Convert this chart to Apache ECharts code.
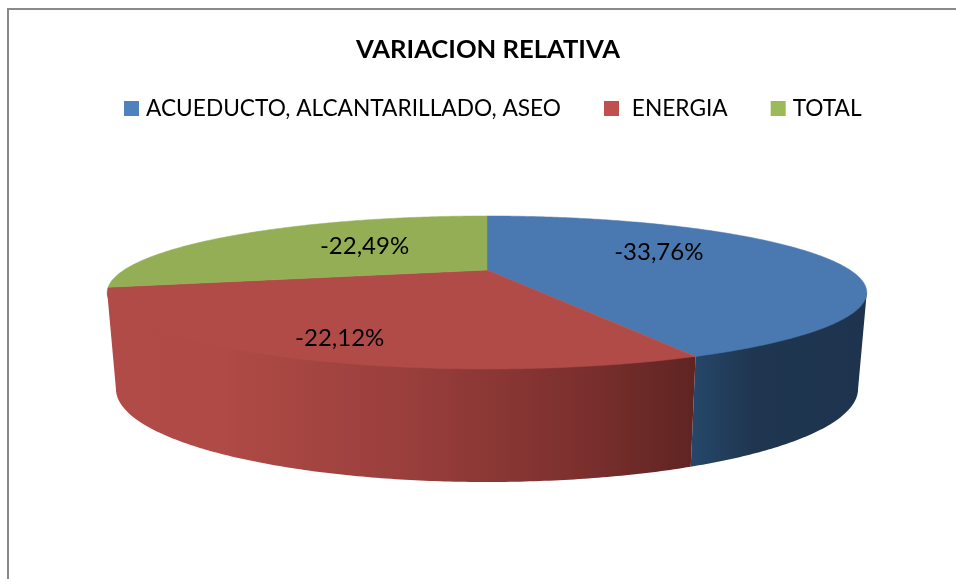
<!DOCTYPE html>
<html><head><meta charset="utf-8">
<style>html,body{margin:0;padding:0;background:#fff}#c{width:956px;height:579px}</style>
<script src="https://cdn.jsdelivr.net/npm/echarts@6/dist/echarts.min.js"></script>
</head><body><div id="c"></div>
<script>
const categories = ['ACUEDUCTO, ALCANTARILLADO, ASEO', ' ENERGIA', 'TOTAL'];
const values = [-33.76, -22.12, -22.49];
const legendColors = ['#4F81BD', '#C0504D', '#9BBB59'];
const topColors = ['#4A79B1', '#B04B47', '#93AE55'];
const wallStops = [
  [[0, '#26476A'], [0.35, '#1F3650'], [1, '#1E344E']],
  [[0, '#B04B47'], [0.2, '#AF4A46'], [0.5, '#9A3F3C'], [0.8, '#7C302E'], [1, '#5F2422']],
  null
];
const labelShift = [[0, -10], [-56, 32], [8, -4]];

// perspective model of the tilted disc
const CX = 487, CY = 270, A = 363, B = 69.9, K = 0.294;
const CY2 = 361.6, B2 = 85, A2 = A * 0.977;
const total = values.reduce((s, v) => s + Math.abs(v), 0);
const starts = [];
values.reduce((acc, v, i) => { starts[i] = acc; return acc + Math.abs(v) / total * 2 * Math.PI; }, 0);
const rightEdge = Math.acos(-K), leftEdge = 2 * Math.PI - rightEdge;

function project(theta, r, a, b, cy) {
  const u = r * Math.sin(theta), v = -r * Math.cos(theta), d = 1 - K * v;
  return [CX + a * u / d, cy + b * v / d];
}
function arc(t0, t1, a, b, cy) {
  const pts = [], n = Math.max(2, Math.ceil(Math.abs(t1 - t0) / 0.01));
  for (let i = 0; i <= n; i++) pts.push(project(t0 + (t1 - t0) * i / n, 1, a, b, cy));
  return pts;
}
function renderSlice(params) {
  const i = params.seriesIndex;
  const t0 = starts[i], t1 = t0 + Math.abs(values[i]) / total * 2 * Math.PI;
  const children = [];
  const w0 = Math.max(t0, rightEdge), w1 = Math.min(t1, leftEdge);
  if (w1 > w0 && wallStops[i]) {
    // the upper side of the wall runs under the top face, so no seam shows along the rim
    const pts = [project(w0, 1, A, B, CY), project(w1, 1, A, B, CY)]
      .concat(arc(w0, w1, A2, B2, CY2).reverse());
    children.push({
      type: 'polygon', shape: { points: pts },
      style: { fill: { type: 'linear', x: 0, y: 0, x2: 1, y2: 0, global: false,
        colorStops: wallStops[i].map(s => ({ offset: s[0], color: s[1] })) } }
    });
  }
  children.push({
    type: 'polygon', shape: { points: [[CX, CY]].concat(arc(t0, t1, A, B, CY)) },
    style: { fill: topColors[i], stroke: topColors[i], lineWidth: 0.5 }
  });
  const mid = project((t0 + t1) / 2, 0.5, A, B, CY);
  children.push({
    type: 'text', z2: 100,
    style: {
      text: values[i].toFixed(2).replace('.', ',') + '%',
      x: mid[0] + labelShift[i][0], y: mid[1] + labelShift[i][1],
      textAlign: 'center', textVerticalAlign: 'middle', verticalAlign: 'middle',
      fill: '#000', font: '24px Lato'
    }
  });
  return { type: 'group', children };
}

const chart = echarts.init(document.getElementById('c'), null, { renderer: 'canvas' });
chart.setOption({
  animation: false,
  backgroundColor: '#fff',
  title: {
    text: 'VARIACION RELATIVA', left: 483, top: 32, textAlign: 'center',
    textStyle: { fontFamily: 'Lato', fontWeight: 'bold', fontSize: 25.6, color: '#000' }
  },
  legend: {
    left: 124, top: 97, padding: 0, itemWidth: 15, itemHeight: 15, itemGap: 43,
    icon: 'rect', selectedMode: false,
    data: categories,
    textStyle: { fontFamily: 'Lato', fontSize: 22.7, color: '#000', padding: [0, 0, 0, 2] }
  },
  graphic: [{
    type: 'polyline', silent: true,
    shape: { points: [[8, 579], [8, 9], [956, 9]] },
    style: { stroke: '#8a8a8a', lineWidth: 2, fill: null }
  }],
  series: categories.map((name, i) => ({
    type: 'custom', name, coordinateSystem: 'none', silent: true,
    itemStyle: { color: legendColors[i] },
    data: [values[i]], renderItem: renderSlice
  }))
});
</script></body></html>
